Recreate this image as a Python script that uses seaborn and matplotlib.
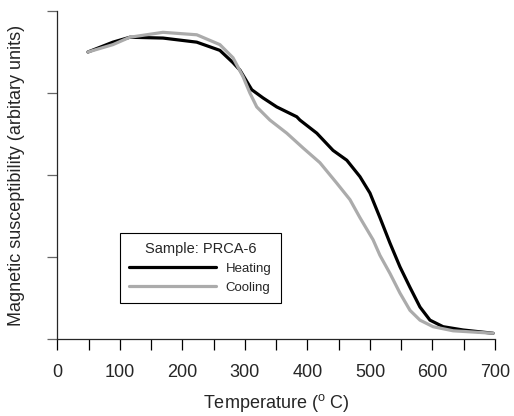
import numpy as np
import pandas as pd
import matplotlib
matplotlib.use("Agg")
import matplotlib.pyplot as plt
import seaborn as sns
from matplotlib.lines import Line2D

heat_T = [49, 89, 116, 169, 223, 260, 281, 292, 311, 329, 351, 383, 388, 415, 441,
          463, 484, 500, 516, 532, 548, 564, 580, 596, 617, 649, 697]
heat_Y = [3.50, 3.62, 3.68, 3.67, 3.62, 3.52, 3.37, 3.28, 3.04, 2.94, 2.83, 2.71, 2.67,
          2.51, 2.30, 2.18, 1.98, 1.78, 1.48, 1.17, 0.88, 0.63, 0.39, 0.23, 0.15, 0.11, 0.07]
cool_T = [49, 89, 116, 169, 223, 260, 281, 297, 308, 319, 340, 367, 393, 420, 447,
          468, 484, 505, 516, 532, 548, 564, 580, 601, 633, 697]
cool_Y = [3.50, 3.59, 3.68, 3.74, 3.71, 3.59, 3.43, 3.20, 3.00, 2.83, 2.67, 2.51, 2.33,
          2.15, 1.90, 1.70, 1.48, 1.21, 1.02, 0.80, 0.56, 0.35, 0.23, 0.15, 0.10, 0.07]
x_ticks = [0, 100, 200, 300, 400, 500, 600, 700]
y_ticks = [0, 1, 2, 3, 4]

df = pd.concat([
    pd.DataFrame({"T": heat_T, "M": heat_Y, "Run": "Heating"}),
    pd.DataFrame({"T": cool_T, "M": cool_Y, "Run": "Cooling"}),
])

sns.set_style("ticks")
plt.rcParams["font.family"] = ["Liberation Sans", "DejaVu Sans"]
plt.rcParams["mathtext.fontset"] = "custom"
plt.rcParams["mathtext.rm"] = "Liberation Sans"

fig = plt.figure(figsize=(5.14, 4.16), dpi=100)
ax = fig.add_axes([57.3 / 514, 1 - 339 / 416, 437.7 / 514, 328 / 416])

sns.lineplot(data=df, x="T", y="M", hue="Run", estimator=None,
             palette={"Heating": "#000000", "Cooling": "#ababab"},
             hue_order=["Heating", "Cooling"], linewidth=2.3, ax=ax, legend=False)

ax.set_xlim(0, 700)
ax.set_ylim(0, 4)
minor = np.arange(0, 701, 50)
ax.set_xticks(minor)
ax.set_xticklabels([str(t) if t in x_ticks else "" for t in minor])
ax.set_yticks(y_ticks)
ax.set_yticklabels([])
ax.tick_params(axis="x", direction="out", length=8, width=0.9, color="black",
               labelsize=13, pad=10)
ax.tick_params(axis="y", direction="out", length=7.5, width=0.9, color="#666666")
for s in ["top", "right"]:
    ax.spines[s].set_visible(False)
ax.spines["left"].set_linewidth(0.9)
ax.spines["bottom"].set_linewidth(0.9)

ax.set_xlabel(r"Temperature ($^\mathrm{o}$ C)", fontsize=13, labelpad=8)
ax.set_ylabel("Magnetic susceptibility (arbitary units)", fontsize=13, labelpad=12)

handles = [Line2D([], [], color="#000000", lw=2.3), Line2D([], [], color="#ababab", lw=2.3)]
leg = ax.legend(handles, ["Heating", "Cooling"], title="Sample: PRCA-6",
                loc="upper left", bbox_to_anchor=(120 / 514, 1 - 233 / 416),
                bbox_transform=fig.transFigure, fontsize=9.5, title_fontsize=10.5,
                handlelength=6.6, handletextpad=0.7, labelspacing=0.5,
                borderpad=0.7, borderaxespad=0, fancybox=False, framealpha=1,
                edgecolor="black", alignment="center")
leg.get_frame().set_linewidth(0.8)

fig.savefig("out.png", dpi=100)
